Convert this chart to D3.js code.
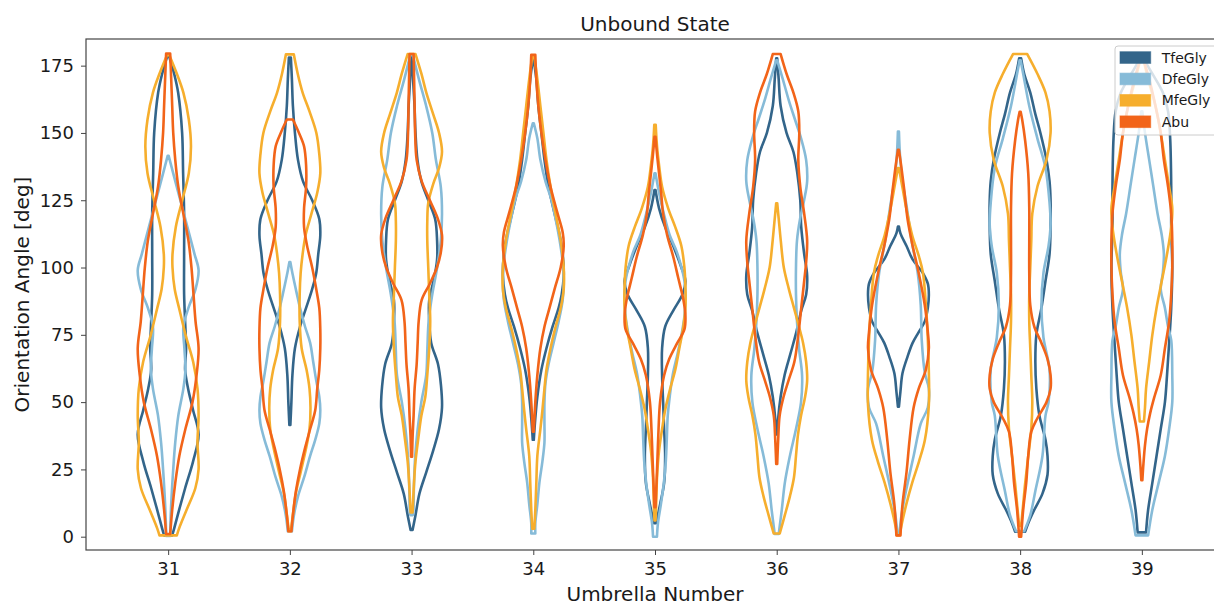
<!DOCTYPE html>
<html>
<head>
<meta charset="utf-8">
<title>Unbound State</title>
<script src="https://d3js.org/d3.v7.min.js"></script>
<style>
body { margin: 0; background: #fff; }
text { font-family: "DejaVu Sans", sans-serif; fill: #1a1a1a; }
</style>
</head>
<body>
<svg id="chart" width="1214" height="605"></svg>
<script>
// umbrella windows on the x axis
var umbrellas = [31, 32, 33, 34, 35, 36, 37, 38, 39];
var yTicks = [0, 25, 50, 75, 100, 125, 150, 175];

// violin outlines: [angle, relative density], top -> bottom
var tfeGly = [
  [[179,0.5],[172,6],[165,10],[150,14],[135,15],[120,16],[105,16],[90,16],[80,17],[70,18],[62,17],[55,20],[47,25],[38,30.5],[28,25],[18,17],[10,11],[3,6],[0.5,4]],
  [[178,1],[170,2],[160,3],[150,5],[140,8],[132,13],[125,22],[118,29],[112,30],[105,28],[98,26],[92,22],[85,16],[78,10],[70,5],[60,2.5],[50,1.5],[41.5,0.5]],
  [[178.4,0.5],[170,1.5],[160,3],[150,4],[140,6],[132,10],[125,17],[118,24],[110,26],[103,26],[96,23],[88,18],[80,18],[72,20],[64,27],[56,30],[48,31],[40,28],[32,22],[24,15],[16,8],[8,4],[2.5,1]],
  [[177,0.5],[170,3],[160,5],[150,8],[140,11],[130,15],[120,21],[112,26],[105,29],[97,30],[90,28],[85,25],[78,19],[70,13],[62,8],[52,4],[44,2],[36,0.5]],
  [[128.8,0.5],[122,4],[115,10],[108,18],[100,26],[95,30],[90,27],[84,18],[78,10],[70,7],[60,7],[50,8],[40,9],[30,10],[20,9],[12,5],[5,1]],
  [[177.7,0.5],[170,2],[160,4],[150,10],[143,17],[135,21],[125,24],[115,25],[105,28],[97,31],[90,30],[84,25],[76,20],[68,14],[60,8],[52,4],[44,1.5],[38,0.5]],
  [[115.2,0.5],[112.7,2],[108,8],[103,14],[98,24],[94,29],[90,30],[85,29],[80,26],[76,20],[72,14],[66.9,9],[60.7,4],[54,2],[48.3,0.5]],
  [[177.7,1],[172,4],[165,10],[157,15],[150,20],[140,26],[132,29],[125,30],[115,30],[105,29],[95,25],[85,21],[75,16],[65,15],[55,16],[45,19],[36,25],[30,27],[23,27],[16,22],[10,14],[5,8],[1.9,5]],
  [[178,1],[172,10],[165,20],[158,25],[148,27],[130,28],[115,28],[100,29],[85,28],[72,26],[60,24],[50,22],[40,18],[30,14],[20,10],[10,6],[1.6,4]]
];
var dfeGly = [
  [[141.5,0.5],[135,5],[125,12],[115,19],[105,26],[99,30],[92,27],[85,20],[78,15],[70,16],[62,17],[55,15],[45,10],[35,7],[25,5],[12,3],[1,2],[0.3,2]],
  [[102,0.5],[97,3],[90,7],[85,10],[78,15],[72,20],[65,23],[58,26],[52,29],[47,30],[42,29],[36,25],[30,20],[22,14],[15,8],[8,4],[2,2]],
  [[179,1],[170,6],[160,12],[150,17],[140,20],[130,24],[120,25],[110,24],[100,21],[90,17],[80,14],[70,13],[60,12],[50,8],[40,5],[30,3],[20,2],[10,1.5],[8,1]],
  [[153.6,0.5],[148,4],[140,7],[132,12],[125,18],[118,22],[110,26],[102,29],[95,30],[88,29],[80,25],[72,20],[64,15],[57,12],[50,11],[42,11],[35,11],[28,9],[20,6],[12,4],[5,2],[1.2,2]],
  [[135,0.5],[128,4],[120,9],[112,15],[106,22],[100,27],[95,30],[90,31],[82,30],[75,27],[68,23],[60,18],[52,15],[45,13],[36,12],[28,11],[20,9],[12,6],[5,3],[0,2]],
  [[177,0.5],[170,6],[162,12],[155,18],[148,24],[140,29],[132,30],[125,27],[118,23],[110,20],[100,19],[90,19],[80,20],[70,22],[60,25],[50,24],[40,19],[30,13],[20,8],[10,5],[1,2]],
  [[150.5,0.5],[142,1.5],[132,4],[123,8],[110,13],[98,19],[86,22],[73,23],[61,26],[55,30],[48,29],[42,22],[30,15],[18,8],[8,3],[1,1]],
  [[177,0.5],[172,3],[160,9],[148,17],[137,25],[124,29],[116,30],[108,28],[98,23],[86,21],[74,23],[62,29],[50,28],[45,25],[30,22],[17,15],[8,10],[2,4]],
  [[158,0.5],[150,3],[140,7],[130,11],[120,15],[112,19],[105,21],[98,20],[92,18],[85,22],[78,25],[73,28],[60,29],[50,29],[40,26],[30,22],[20,16],[10,10],[0.5,6]]
];
var mfeGly = [
  [[179,1],[172,8],[165,14],[155,19],[145,21],[135,19],[125,13],[115,7],[105,4],[100,4],[92,6],[85,10],[75,16],[65,23],[55,27],[45,28],[35,27],[25,28],[18,25],[10,17],[3,10],[0.5,8]],
  [[179.2,4],[172,8],[165,13],[158,20],[150,27],[142,30],[135,31],[128,28],[120,22],[112,16],[105,13],[98,11],[90,10],[80,10],[70,12],[62,17],[55,20],[48,21],[40,20],[32,16],[24,11],[16,6],[8,3],[2,1]],
  [[179.3,4],[172,10],[165,15],[157,22],[150,28],[143,31],[137,28],[131,22],[124,17],[117,16],[110,16],[100,17],[90,18],[80,19],[70,18],[60,16],[52,14],[45,10],[37,7],[28,4],[20,2.5],[9,1]],
  [[178.4,1],[170,4],[160,7],[150,10],[140,13],[130,17],[120,22],[110,27],[100,30],[92,30],[85,27],[78,22],[70,17],[62,13],[55,11],[47,9],[40,7],[30,4],[20,3],[10,2],[3,1]],
  [[153,0.7],[145,2],[138,4],[130,7],[122,13],[115,20],[108,26],[100,29],[93,30],[85,30],[78,28],[70,24],[62,20],[55,15],[47,10],[40,7],[32,4],[22,2],[10,1],[6,0.5]],
  [[123.9,0.5],[118,2],[110,4],[100,7],[92,12],[85,17],[78,22],[72,26],[65,29],[58,30],[52,28],[45,24],[38,21],[30,19],[22,17],[15,13],[8,8],[1.2,3]],
  [[137,0.5],[130,4],[122,8],[112,14],[104,21],[98,25],[86,28],[73,30],[61,31],[49,31],[36,27],[28,21],[20,14],[12,8],[3,2.5],[0.5,1.5]],
  [[179.3,7],[172,17],[165,25],[158,29],[150,30],[140,26],[130,17],[120,12],[110,11],[100,10],[90,9],[80,9],[70,10],[60,11],[50,12],[40,11],[30,8],[20,5],[12,3],[4,1]],
  [[178,1],[170,6],[160,13],[150,18],[140,22],[130,26],[122,29],[115,28],[105,24],[95,19],[85,14],[75,10],[65,7],[55,4],[48,3],[42.8,2]]
];
var abu = [
  [[179.5,2],[170,3],[160,4],[150,5],[140,7],[130,10],[120,15],[110,20],[100,23],[90,25],[80,27],[70,30],[60,28],[50,24],[40,17],[30,11],[20,7],[10,4],[1,2]],
  [[155,3],[150,9],[145,14],[138,16],[130,16],[122,14],[115,14],[108,17],[100,22],[92,26],[85,29],[77,30],[70,30],[62,29],[55,27],[47,25],[40,20],[33,15],[25,10],[17,6],[8,3],[2,1.5]],
  [[179.3,2],[170,2.5],[160,3],[150,3.5],[140,5],[132,10],[125,18],[118,26],[112,30],[106,29],[100,25],[94,18],[88,10],[80,7],[72,6],[64,5],[55,3],[45,2],[37,1],[29.7,0.5]],
  [[179,2],[170,3],[160,5],[150,8],[140,12],[130,17],[120,24],[113,29],[108,30],[100,27],[92,21],[85,16],[78,11],[70,7],[60,4],[50,2],[39,0.5]],
  [[148.6,0.5],[142,2],[135,4],[128,6],[120,8],[112,12],[104,18],[96,23],[88,28],[82,30],[77,29],[72,22],[66,14],[60,9],[50,5],[40,3.5],[30,2.5],[20,1.5],[11,0.5]],
  [[179.3,4],[172,10],[165,17],[158,22],[150,23],[140,22],[130,24],[120,28],[110,31],[102,30],[95,28],[85,25],[75,22],[65,18],[58,12],[52,7],[45,3],[36,1.5],[27,0.5]],
  [[143.7,0.5],[137,3],[128,6],[118,9],[108,14],[98,20],[86,26],[76,29],[70,30],[62,27],[55,20],[48,15],[36,11],[24,8],[12,4],[0.5,2]],
  [[157.9,0.5],[155,2],[147,5],[135,8],[122,9],[110,9],[98,9],[86,10],[78,14],[72,21],[66,27],[60,30],[55,30],[50,26],[44,17],[39,11],[30,8],[20,6],[10,3],[0,1]],
  [[178,1],[170,7],[160,13],[150,18],[140,21],[130,25],[120,28],[110,29],[100,29],[90,28],[80,26],[70,22],[60,18],[52,12],[46,8],[40,5],[34,3],[27,1.5],[21,0.5]]
];

var seriesNames = ["TfeGly", "DfeGly", "MfeGly", "Abu"];
var seriesColors = ["#33658A", "#86BBD8", "#F6AE2D", "#F26419"];
var series = [tfeGly, dfeGly, mfeGly, abu];

//layout (plot frame edges in pixels)
var plotLeft = 86, plotRight = 1224, plotTop = 39, plotBottom = 550;
var svg = d3.select("#chart");

var x = d3.scaleLinear().domain([30.325, 39.675]).range([plotLeft, plotRight]);
var y = d3.scaleLinear().domain([-4.94, 184.9]).range([plotBottom, plotTop]);
var halfWidth = 0.25; // violin half width in umbrella units

var plot = svg.append("g");

// draw the violins
series.forEach(function(s, si) {
  s.forEach(function(pts, i) {
    var c = umbrellas[i];
    var maxD = d3.max(pts, function(d){ return d[1]; });
    var area = d3.area()
      .y(function(d){ return y(d[0]); })
      .x0(function(d){ return x(c - halfWidth * d[1] / maxD); })
      .x1(function(d){ return x(c + halfWidth * d[1] / maxD); })
      .curve(d3.curveCatmullRom.alpha(0.5));
    plot.append("path")
      .attr("d", area(pts))
      .attr("fill", "none")
      .attr("stroke", seriesColors[si])
      .attr("stroke-width", 2.6)
      .attr("stroke-linejoin", "round");
  });
});

//axes
var yAxis = d3.axisLeft(y).tickValues(yTicks).tickSize(5).tickPadding(7);
var xAxis = d3.axisBottom(x).tickValues(umbrellas).tickSize(5).tickPadding(7).tickFormat(d3.format("d"));

var gy = svg.append("g").attr("transform", "translate(" + plotLeft + ",0)").call(yAxis);
var gx = svg.append("g").attr("transform", "translate(0," + plotBottom + ")").call(xAxis);
[gx, gy].forEach(function(g) {
  g.attr("font-family", null).attr("font-size", null);
  g.select(".domain").remove();
  g.selectAll(".tick line").attr("stroke", "#444").attr("stroke-width", 1);
  g.selectAll(".tick text").style("font-size", "18px").attr("fill", "#1a1a1a");
});

// frame
svg.append("rect")
  .attr("x", plotLeft).attr("y", plotTop)
  .attr("width", plotRight - plotLeft).attr("height", plotBottom - plotTop)
  .attr("fill", "none").attr("stroke", "#444").attr("stroke-width", 1.2);

// title and labels
svg.append("text")
  .attr("x", (plotLeft + plotRight) / 2).attr("y", 31)
  .attr("text-anchor", "middle").style("font-size", "20px")
  .text("Unbound State");

svg.append("text")
  .attr("x", (plotLeft + plotRight) / 2).attr("y", 601)
  .attr("text-anchor", "middle").style("font-size", "20px")
  .text("Umbrella Number");

svg.append("text")
  .attr("transform", "translate(29," + ((plotTop + plotBottom) / 2) + ") rotate(-90)")
  .attr("text-anchor", "middle").style("font-size", "20px")
  .text("Orientation Angle [deg]");

// legend
var legend = svg.append("g").attr("transform", "translate(1115,46)");
legend.append("rect")
  .attr("width", 120).attr("height", 89).attr("rx", 3)
  .attr("fill", "#fff").attr("fill-opacity", 0.8)
  .attr("stroke", "#ccc");
seriesNames.forEach(function(name, i) {
  var row = legend.append("g").attr("transform", "translate(0," + (11.5 + i * 21.4) + ")");
  row.append("rect")
    .attr("x", 5).attr("y", -5.8).attr("width", 30.7).attr("height", 11.7)
    .attr("fill", seriesColors[i])
    .attr("stroke", seriesColors[i]).attr("stroke-opacity", 0.6);
  row.append("text")
    .attr("x", 46.7).attr("y", 5)
    .style("font-size", "14px")
    .text(name);
});
</script>
</body>
</html>
